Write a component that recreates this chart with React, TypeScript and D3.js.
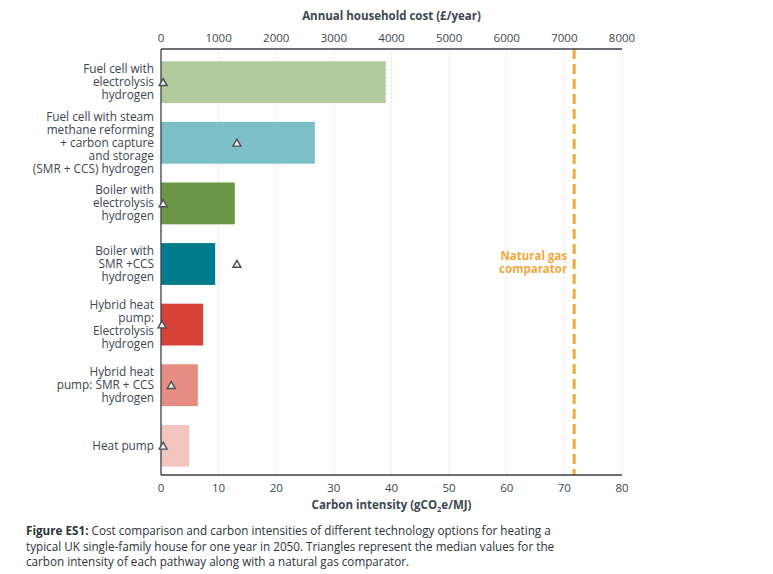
import React from "react";
import * as d3 from "d3";

const categories = [
  "Fuel cell electrolysis",
  "Fuel cell SMR+CCS",
  "Boiler electrolysis",
  "Boiler SMR+CCS",
  "Hybrid electrolysis",
  "Hybrid SMR+CCS",
  "Heat pump",
];
const labelLines = [
  ["Fuel cell with", "electrolysis", "hydrogen"],
  ["Fuel cell with steam", "methane reforming", "+ carbon capture", "and storage", "(SMR + CCS) hydrogen"],
  ["Boiler with", "electrolysis", "hydrogen"],
  ["Boiler with", "SMR +CCS", "hydrogen"],
  ["Hybrid heat", "pump:", "Electrolysis", "hydrogen"],
  ["Hybrid heat", "pump: SMR + CCS", "hydrogen"],
  ["Heat pump"],
];
const annualCost = [3900, 2670, 1280, 940, 730, 640, 490];
const carbonIntensity = [0.2, 13, 0.2, 13, 0, 1.6, 0.2];
const barColors = ["#b3c99e", "#7dbfc6", "#6a9645", "#007b8e", "#d84136", "#e78c82", "#f2c5bf"];
const costTicks = [0, 1000, 2000, 3000, 4000, 5000, 6000, 7000, 8000];
const carbonTicks = [0, 10, 20, 30, 40, 50, 60, 70, 80];
const naturalGas = 71.7;
const captionLines = [
  ["Figure ES1:", " Cost comparison and carbon intensities of different technology options for heating a"],
  ["", "typical UK single-family house for one year in 2050. Triangles represent the median values for the"],
  ["", "carbon intensity of each pathway along with a natural gas comparator."],
];

const W = 773, H = 574;
const left = 161, right = 622, top = 49, bottom = 475;
const font = "'Open Sans', sans-serif";
const textColor = "#3c4650";

export default function App() {
  const xCost = d3.scaleLinear().domain([0, 8000]).range([left, right]);
  const xCarbon = d3.scaleLinear().domain([0, 80]).range([left, right]);
  const y = d3.scaleBand<string>().domain(categories).range([top + 2, bottom + 2]).paddingInner(0.31).paddingOuter(0.17);
  const tri = d3.symbol().type(d3.symbolTriangle).size(28)();

  return (
    <svg width={W} height={H} style={{ position: "absolute", left: 0, top: 0 }} fontFamily={font}>
      <rect width={W} height={H} fill="#fff" />
      {/* gridlines */}
      {carbonTicks.slice(1).map((t) => (
        <line key={"g" + t} x1={xCarbon(t)} x2={xCarbon(t)} y1={top} y2={bottom} stroke="#c8c8c8" strokeWidth={1} strokeDasharray="1,3" />
      ))}
      {/* bars */}
      {categories.map((c, i) => (
        <rect key={c} x={xCost(0)} y={y(c)} width={xCost(annualCost[i]) - xCost(0)} height={y.bandwidth()} fill={barColors[i]} />
      ))}
      {/* natural gas line */}
      <line x1={xCarbon(naturalGas)} x2={xCarbon(naturalGas)} y1={top} y2={bottom} stroke="#f2a93b" strokeWidth={3} strokeDasharray="10,5" />
      <text x={xCarbon(naturalGas) - 7} y={260} textAnchor="end" fontSize={11.5} fontWeight={700} fill="#f2a93b">Natural gas</text>
      <text x={xCarbon(naturalGas) - 7} y={273} textAnchor="end" fontSize={11.5} fontWeight={700} fill="#f2a93b">comparator</text>
      {/* axes lines */}
      <line x1={left} x2={right} y1={top} y2={top} stroke="#3c4048" strokeWidth={1.3} />
      <line x1={left} x2={right} y1={bottom} y2={bottom} stroke="#3c4048" strokeWidth={1.3} />
      <line x1={left} x2={left} y1={top} y2={bottom} stroke="#3c4048" strokeWidth={1.3} />
      {/* triangles */}
      {categories.map((c, i) => (
        <path key={"t" + c} d={tri || ""} transform={`translate(${xCarbon(carbonIntensity[i]) + 1},${(y(c) || 0) + y.bandwidth() / 2 + 1})`} fill="#eef0f0" stroke="#4a4f55" strokeWidth={1.4} />
      ))}
      {/* category labels */}
      {categories.map((c, i) => {
        const lines = labelLines[i];
        const cy = (y(c) || 0) + y.bandwidth() / 2;
        const start = cy - ((lines.length - 1) * 13) / 2;
        return (
          <text key={"l" + c} textAnchor="end" fontSize={11.8} fill={textColor}>
            {lines.map((ln, j) => (
              <tspan key={j} x={154} y={start + j * 13 + 4}>{ln}</tspan>
            ))}
          </text>
        );
      })}
      {/* top axis */}
      {costTicks.map((t) => (
        <text key={"ct" + t} x={xCost(t)} y={42} textAnchor="middle" fontSize={11.5} fill={textColor}>{t}</text>
      ))}
      <text x={(left + right) / 2} y={20} textAnchor="middle" fontSize={11.5} fontWeight={700} fill={textColor}>Annual household cost (£/year)</text>
      {/* bottom axis */}
      {carbonTicks.map((t) => (
        <text key={"bt" + t} x={xCarbon(t)} y={492} textAnchor="middle" fontSize={11.5} fill={textColor}>{t}</text>
      ))}
      <text x={(left + right) / 2} y={509} textAnchor="middle" fontSize={11.5} fontWeight={700} fill={textColor}>
        Carbon intensity (gCO<tspan fontSize={7.5} dy={3}>2</tspan><tspan dy={-3}>e/MJ)</tspan>
      </text>
      {/* caption */}
      {captionLines.map((ln, i) => (
        <text key={"cap" + i} x={26} y={535 + i * 15.5} fontSize={11.7} fill="#2e3338">
          {ln[0] ? <tspan fontWeight={700}>{ln[0]}</tspan> : null}
          <tspan>{ln[1]}</tspan>
        </text>
      ))}
    </svg>
  );
}
